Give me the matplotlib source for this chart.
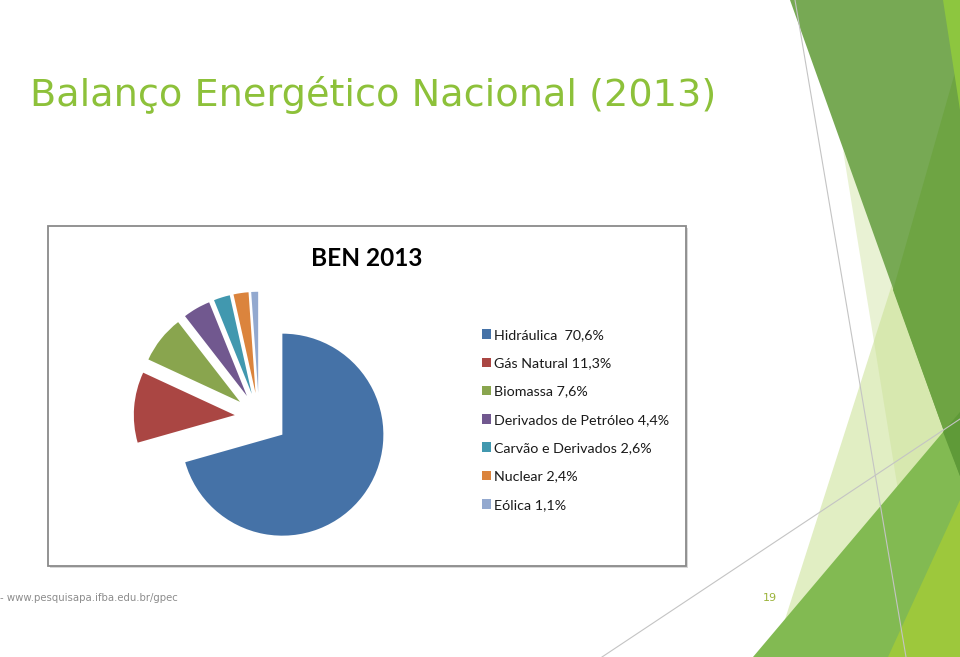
import matplotlib
matplotlib.use("Agg")
import matplotlib.pyplot as plt
from matplotlib.patches import Polygon, Rectangle
from matplotlib.lines import Line2D

# ---------------- data ----------------
categories = ["Hidráulica", "Gás Natural", "Biomassa", "Derivados de Petróleo",
              "Carvão e Derivados", "Nuclear", "Eólica"]
values = [70.6, 11.3, 7.6, 4.4, 2.6, 2.4, 1.1]
legend_labels = ["Hidráulica  70,6%", "Gás Natural 11,3%", "Biomassa 7,6%",
                 "Derivados de Petróleo 4,4%", "Carvão e Derivados 2,6%",
                 "Nuclear 2,4%", "Eólica 1,1%"]
colors = ["#4572A7", "#AA4643", "#89A54E", "#71588F", "#4198AF", "#DB843D", "#93A9CF"]
explode = [0.29, 0.24, 0.24, 0.24, 0.24, 0.24, 0.24]
slide_title = "Balanço Energético Nacional (2013)"
chart_title = "BEN 2013"
footer = "- www.pesquisapa.ifba.edu.br/gpec"
page_number = "19"

W, H = 960, 657
fig = plt.figure(figsize=(W / 100, H / 100), dpi=100)
fig.patch.set_facecolor("white")


def fx(x):
    return x / W


def fy(y):
    return 1 - y / H


def poly(pts, color, alpha=1.0, z=0):
    p = Polygon([(fx(x), fy(y)) for x, y in pts], closed=True, transform=fig.transFigure,
                facecolor=color, edgecolor="none", alpha=alpha, zorder=z)
    fig.add_artist(p)


# ---------------- decorative right-side shapes ----------------
poly([(843, 150), (960, 390), (960, 657), (925, 657)], "#CFE3A0", 0.45, 1)
poly([(935, 150), (960, 150), (960, 657), (773, 657)], "#C9E092", 0.55, 2)
poly([(960, 412), (960, 657), (753, 657)], "#82BA52", 1.0, 3)
poly([(960, 500), (960, 657), (888, 657)], "#9DC83C", 1.0, 4)
poly([(790, 0), (960, 0), (960, 476)], "#77A954", 1.0, 5)
poly([(960, 55), (893, 290), (960, 476)], "#6EA443", 1.0, 6)
poly([(943, 432), (960, 412), (960, 476)], "#5F9A38", 1.0, 6)
poly([(943, 0), (960, 0), (960, 110)], "#8DC63F", 1.0, 7)
fig.add_artist(Line2D([fx(795), fx(906)], [fy(0), fy(657)], transform=fig.transFigure,
                      color="#C4C4C4", lw=0.8, zorder=8))
fig.add_artist(Line2D([fx(602), fx(960)], [fy(657), fy(419)], transform=fig.transFigure,
                      color="#C4C4C4", lw=0.8, zorder=8))

# ---------------- slide texts ----------------
fig.text(fx(29.5), fy(106), slide_title, color="#8DC13A", fontsize=27.5,
         family="DejaVu Sans", ha="left", va="baseline", zorder=10)
fig.text(fx(0), fy(601), footer, color="#8C8C8C", fontsize=7.3,
         family="DejaVu Sans", ha="left", va="baseline", zorder=10)
fig.text(fx(763), fy(601), page_number, color="#9BB33A", fontsize=8,
         family="DejaVu Sans", ha="left", va="baseline", zorder=10)

# ---------------- chart box ----------------
fig.add_artist(Rectangle((fx(50), fy(568)), fx(638), 340 / H, transform=fig.transFigure,
                         facecolor="#D8D8D8", edgecolor="none", zorder=10))
fig.add_artist(Rectangle((fx(48), fy(566)), fx(638), 340 / H, transform=fig.transFigure,
                         facecolor="white", edgecolor="#8A8A8A", lw=1.3, zorder=11))
fig.text(fx(367), fy(266), chart_title, color="black", fontsize=17.6,
         family="Lato", weight="bold", ha="center", va="baseline", zorder=12)

# ---------------- pie ----------------
cx, cy, r = 259, 417, 101
span = 1.5
ax = fig.add_axes([fx(cx - span * r), fy(cy + span * r), 2 * span * r / W, 2 * span * r / H])
ax.set_zorder(12)
ax.patch.set_alpha(0)
wedges, _ = ax.pie(values, colors=colors, explode=explode, startangle=90, counterclock=False,
                   radius=1.0, wedgeprops=dict(linewidth=0))
ax.set_xlim(-span, span)
ax.set_ylim(-span, span)
ax.set_aspect("equal")
ax.axis("off")

leg = fig.legend(wedges, legend_labels, loc="upper left",
                 bbox_to_anchor=(fx(481.5), fy(329)), frameon=False,
                 prop=dict(family="Lato", size=10.3), handlelength=0.64, handleheight=0.64,
                 handletextpad=0.2, labelspacing=1.14, borderaxespad=0, borderpad=0)
leg.set_zorder(13)
for t in leg.get_texts():
    t.set_color("#1A1A1A")

fig.savefig("out.png", dpi=100, facecolor="white")
